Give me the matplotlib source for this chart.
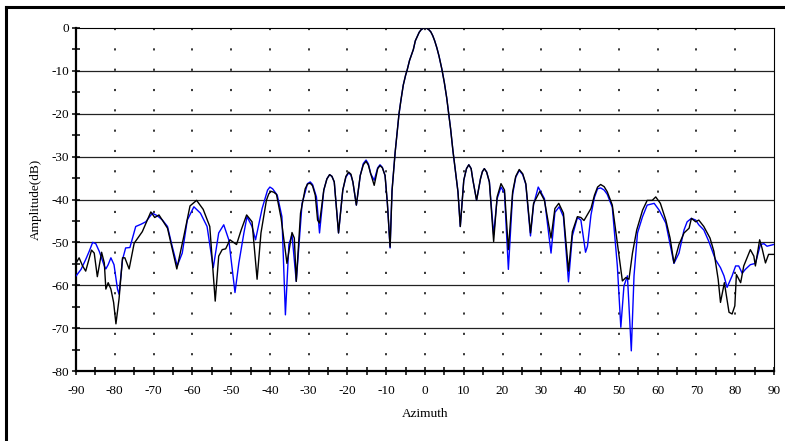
import matplotlib
matplotlib.use("Agg")
import matplotlib.pyplot as plt
from matplotlib.lines import Line2D
from matplotlib.ticker import MultipleLocator

plt.rcParams['font.family'] = ['Liberation Serif', 'DejaVu Serif']
plt.rcParams['axes.unicode_minus'] = False

# ---------------- data ----------------
# main lobe (both measurements coincide)
az_main = [-7.7, -7.2, -6.7, -6.2, -5.6, -5.0, -4.6, -4.0, -3.0, -2.5, -2.0, -1.5, -1.0, -0.5, 0.0,
           0.5, 1.0, 1.5, 2.0, 2.5, 3.05, 3.6, 4.35, 5.0, 5.6, 6.1, 6.6, 7.2, 8.5, 9.1]
amp_main = [-29.0, -24.5, -20.0, -16.8, -13.3, -11.0, -9.8, -7.6, -5.0, -3.0, -2.0, -1.0, -0.4, -0.1, 0.0,
            -0.1, -0.4, -0.9, -1.8, -3.0, -4.6, -6.5, -9.6, -12.8, -16.3, -20.0, -23.5, -28.6, -38.2, -46.3]

az_black = [-89.95, -89.2, -88.3, -87.5, -86.0, -85.3, -84.5, -83.4, -82.7, -82.3, -81.7, -81.0, -80.3, -79.7,
            -78.9, -78.0, -77.4, -76.3, -75.0, -72.9, -70.7, -69.7, -68.6, -66.4, -64.0, -62.2, -60.6, -58.9,
            -57.2, -55.5, -54.1, -53.2, -52.3, -51.4, -50.3, -48.6, -47.4, -46.0, -44.6, -43.3, -42.3, -40.9,
            -40.3, -39.7, -39.0, -38.3, -37.1, -35.6, -34.3, -33.7, -33.2, -32.1, -30.9, -30.3, -29.6, -29.0,
            -28.3, -27.7, -27.2, -26.1, -25.3, -24.6, -24.0, -23.4, -22.3, -21.2, -20.4, -19.7, -19.1, -18.6,
            -17.7, -16.7, -15.9, -15.2, -14.6, -14.0, -13.1, -12.2, -11.6, -11.0, -10.3, -9.7, -9.0, -8.5,
            10.0, 10.7, 11.3, 11.9, 12.3, 13.3, 14.3, 14.8, 15.3, 15.9, 16.6, 17.7, 18.6, 19.6, 20.5, 21.5,
            22.6, 23.4, 24.3, 25.2, 26.0, 27.2, 28.0, 29.6, 30.8, 32.5, 33.5, 34.5, 35.7, 37.0, 38.0, 39.3,
            40.2, 41.0, 42.8, 43.7, 44.5, 45.3, 46.2, 47.0, 48.3, 49.6, 50.9, 51.8, 52.6, 53.5, 54.6, 56.1,
            57.3, 58.6, 59.5, 60.7, 62.1, 63.2, 64.2, 65.5, 66.8, 68.1, 68.7, 69.8, 70.6, 71.9, 73.5, 74.5,
            75.6, 76.2, 77.2, 78.4, 79.2, 79.9, 80.3, 81.4, 82.2, 83.9, 84.8, 85.2, 86.3, 86.9, 87.8, 88.6,
            89.9]
amp_black = [-54.8, -53.6, -55.5, -56.7, -51.8, -52.5, -58.0, -52.3, -54.8, -60.9, -59.4, -60.9, -64.0, -69.0,
             -63.2, -53.6, -53.6, -56.2, -50.2, -47.5, -42.9, -44.2, -43.6, -46.7, -56.2, -48.6, -41.5, -40.2,
             -42.3, -46.3, -63.7, -53.2, -51.7, -51.5, -49.4, -50.5, -47.1, -43.6, -45.2, -58.6, -47.8, -40.2,
             -38.7, -38.1, -38.3, -38.8, -44.4, -54.9, -47.7, -49.0, -59.1, -43.2, -37.5, -36.4, -36.2, -36.8,
             -39.0, -44.8, -45.5, -37.8, -35.2, -34.2, -34.6, -35.9, -47.8, -37.8, -34.6, -33.6, -34.1, -35.9,
             -41.3, -34.4, -31.9, -31.1, -32.0, -34.0, -36.7, -32.8, -32.1, -32.6, -34.4, -40.9, -51.1, -38.0,
             -35.5, -32.8, -31.9, -32.8, -35.2, -40.2, -35.2, -33.5, -32.8, -33.6, -35.9, -49.8, -39.4, -36.3,
             -37.8, -51.7, -38.2, -34.6, -33.0, -34.0, -36.3, -47.8, -40.9, -38.1, -40.2, -49.0, -42.1, -40.9,
             -43.2, -56.7, -47.5, -44.0, -44.2, -44.9, -42.1, -39.0, -37.1, -36.5, -37.0, -38.2, -41.3, -50.2,
             -59.0, -58.2, -58.6, -52.5, -47.1, -42.5, -40.2, -40.2, -39.4, -40.9, -44.8, -49.0, -54.8, -50.5,
             -47.8, -46.7, -44.4, -45.2, -44.8, -46.3, -49.0, -52.1, -58.6, -64.0, -59.4, -66.3, -66.7, -64.8,
             -57.5, -59.4, -55.5, -51.7, -53.2, -55.5, -49.4, -51.3, -54.8, -52.8, -52.8]

az_blue = [-89.95, -88.7, -87.5, -86.6, -85.7, -84.9, -84.0, -82.7, -82.3, -81.7, -81.0, -80.2, -79.3, -78.9,
           -78.5, -78.0, -77.2, -76.1, -74.6, -73.3, -72.0, -70.3, -69.0, -67.7, -66.4, -65.2, -63.9, -62.6,
           -61.3, -59.6, -57.9, -56.2, -54.6, -53.2, -51.9, -50.6, -49.0, -48.0, -46.7, -45.9, -44.6, -43.7,
           -42.0, -40.6, -40.0, -39.3, -38.1, -36.9, -36.0, -35.1, -34.3, -33.2, -31.7, -30.3, -29.6, -29.0,
           -28.0, -27.2, -26.1, -25.3, -24.6, -24.0, -23.4, -22.3, -21.2, -20.4, -19.7, -19.1, -18.6, -17.7,
           -16.7, -15.9, -15.2, -14.6, -14.0, -13.1, -12.2, -11.6, -11.0, -10.3, -9.7, -9.0, -8.5,
           10.0, 10.7, 11.3, 11.9, 12.3, 13.3, 14.3, 14.8, 15.3, 15.9, 16.6, 17.7, 18.6, 19.6, 20.5, 21.5,
           22.6, 23.4, 24.3, 25.2, 26.0, 27.2, 28.0, 29.2, 30.8, 32.5, 33.5, 34.6, 35.7, 37.0, 38.0, 39.3,
           40.2, 41.4, 41.9, 42.8, 43.7, 44.5, 45.3, 46.2, 47.0, 48.3, 49.6, 50.5, 51.3, 52.2, 53.2, 53.9,
           54.8, 56.1, 57.3, 59.1, 60.4, 62.1, 63.3, 64.2, 65.5, 66.8, 67.6, 68.7, 69.8, 70.6, 71.9, 73.2,
           74.9, 76.2, 77.1, 77.9, 79.2, 80.1, 80.9, 81.8, 82.6, 83.9, 85.2, 86.5, 87.4, 88.2, 89.9]
amp_blue = [-57.8, -56.3, -54.0, -52.1, -50.0, -50.3, -52.1, -55.5, -56.2, -55.2, -53.6, -55.2, -60.9, -62.1,
            -58.6, -54.0, -51.3, -51.2, -46.3, -45.8, -45.2, -43.2, -43.8, -44.8, -46.3, -50.9, -55.5, -52.5,
            -44.8, -41.7, -43.2, -46.3, -55.9, -47.8, -45.9, -49.4, -61.7, -54.8, -47.8, -44.0, -46.3, -49.4,
            -42.1, -37.8, -37.1, -37.5, -39.0, -44.0, -66.9, -50.5, -48.2, -59.1, -40.9, -36.3, -35.9, -36.5,
            -39.4, -47.8, -37.8, -35.2, -34.2, -34.6, -35.9, -47.8, -37.8, -34.8, -33.8, -34.3, -35.9, -41.3,
            -34.4, -31.6, -30.8, -31.7, -34.0, -35.5, -32.6, -31.9, -32.5, -34.4, -40.9, -51.3, -37.8,
            -35.5, -32.8, -31.9, -32.8, -35.2, -40.2, -35.2, -33.5, -32.8, -33.6, -35.9, -48.2, -39.8, -37.1,
            -38.5, -56.3, -38.8, -34.8, -33.2, -34.2, -36.5, -48.5, -41.2, -37.1, -39.8, -52.5, -43.0, -41.7,
            -44.0, -59.2, -48.5, -44.2, -44.8, -52.3, -50.9, -43.6, -39.5, -37.5, -37.3, -37.8, -38.8, -41.8,
            -55.5, -69.8, -60.2, -57.8, -75.3, -57.8, -47.8, -44.0, -41.3, -40.9, -42.5, -45.5, -50.9, -54.9,
            -52.5, -47.1, -45.2, -44.4, -44.8, -45.9, -47.1, -49.8, -54.0, -55.9, -57.8, -60.5, -57.8, -55.5,
            -55.5, -57.2, -56.3, -55.2, -54.9, -50.5, -50.3, -50.9, -50.5]

x_ticks = list(range(-90, 91, 10))
y_ticks = list(range(-80, 1, 10))


def series(az, amp):
    pts = sorted(zip(list(az) + az_main, list(amp) + amp_main))
    return [p[0] for p in pts], [p[1] for p in pts]


# ---------------- figure ----------------
W, H = 785, 441
fig = plt.figure(figsize=(W / 100, H / 100), dpi=100)
ax = fig.add_axes([76 / W, 1 - 371 / H, (774 - 76) / W, (371 - 28) / H])

# outer frame (top and left visible)
fig.add_artist(Line2D([6 / W, 6 / W], [0, 1 - 7 / H], transform=fig.transFigure, color='black', lw=2.2))
fig.add_artist(Line2D([6 / W, 1], [1 - 7 / H, 1 - 7 / H], transform=fig.transFigure, color='black', lw=2.2))

# grid
for yv in y_ticks[1:-1]:
    ax.axhline(yv, color='#222222', lw=0.9, zorder=1)
for xv in x_ticks[1:-1]:
    ax.plot([xv, xv], [0, -80], color='black', lw=1.1, linestyle=(0, (1.4, 11.9)), zorder=1)

bx, by = series(az_blue, amp_blue)
kx, ky = series(az_black, amp_black)
ax.plot(bx, by, color='#0000ff', lw=1.0, zorder=3)
ax.plot(kx, ky, color='black', lw=1.0, zorder=4)

ax.set_xlim(-90, 90)
ax.set_ylim(-80, 0)
ax.set_xticks(x_ticks)
ax.set_yticks(y_ticks)
ax.xaxis.set_minor_locator(MultipleLocator(5))
ax.yaxis.set_minor_locator(MultipleLocator(5))
ax.tick_params(axis='both', which='both', direction='inout', length=5.5, width=1.1, labelsize=9.5,
               top=False, right=False)
ax.tick_params(axis='x', which='major', pad=7)
ax.tick_params(axis='y', which='major', pad=2)

ax.spines['left'].set_linewidth(1.6)
ax.spines['bottom'].set_linewidth(1.6)
ax.spines['top'].set_linewidth(0.8)
ax.spines['right'].set_linewidth(0.8)

ax.set_xlabel('Azimuth', fontsize=9.5, labelpad=8)
ax.set_ylabel('Amplitude(dB)', fontsize=9.5, labelpad=7)

fig.savefig('out.png', dpi=100)
